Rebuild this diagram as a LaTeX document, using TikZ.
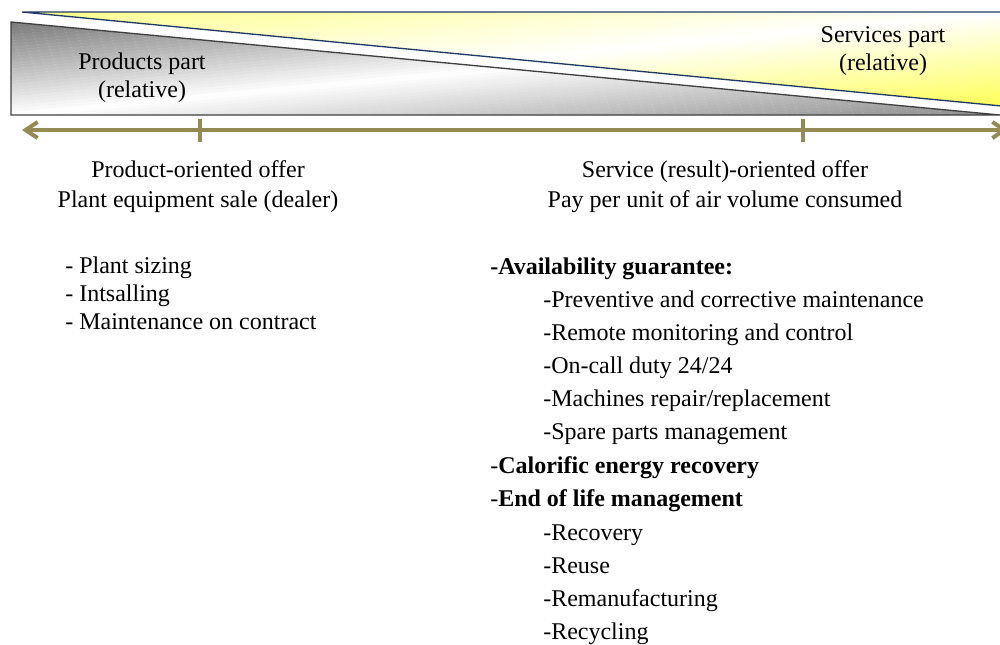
\documentclass[tikz,border=0pt]{standalone}
\usepackage{fontspec}
\setmainfont{Liberation Serif}
\usepackage{xcolor}
\usepackage{tikz}
\usetikzlibrary{arrows.meta}
\definecolor{scalecol}{HTML}{948A54}
\definecolor{prodedge}{HTML}{404040}
\definecolor{prodtop}{HTML}{7A7A7A}
\definecolor{prodbot}{HTML}{8C8C8C}
\definecolor{servedge}{HTML}{1F3B63}
\definecolor{servtop}{HTML}{FFFF8C}
\definecolor{servbot}{HTML}{FFFF55}

% diagonal two-way gradient over a box: origin, width, height (pt), corner colours
\newcommand{\diagfill}[5]{%
  \begin{scope}[shift={#1},x={(#2,0pt)},y={(0pt,-#3)}]
    \foreach \k in {0,...,59} {
      \pgfmathsetmacro\ta{2*\k/60}
      \pgfmathsetmacro\tb{2*(\k+1.1)/60}
      \pgfmathsetmacro\mix{abs(100-200*(\k+0.5)/60)}
      \ifnum\k<30 \def\endcol{#4}\else\def\endcol{#5}\fi
      \fill[\endcol!\mix!white] (\ta+0.1,-0.1) -- (\tb+0.1,-0.1)
           -- (\tb-1.1,1.1) -- (\ta-1.1,1.1) -- cycle;
    }
  \end{scope}}

\begin{document}
\begin{tikzpicture}[
   x=0.75pt, y=-0.75pt,
   font=\fontsize{18}{21}\selectfont,
   lbl/.style={inner sep=0pt,anchor=base},
   item/.style={inner sep=0pt,anchor=base west},
   tick/.style={scalecol,line width=3pt},
   barb/.tip={Straight Barb[length=9pt,width=12pt]},
]
\useasboundingbox (0,0) rectangle (1000,644);

% relative parts (two wedges)
\begin{scope}
  \clip (11,22) -- (11,115) -- (1000,115) -- cycle;
  \diagfill{(11,22)}{741.75pt}{69.75pt}{prodtop}{prodbot}
\end{scope}
\draw[prodedge,line width=1pt] (11,22) -- (11,115) -- (1000,115) -- cycle;
\begin{scope}
  \clip (22,12) -- (1012,12) -- (1012,107) -- cycle;
  \diagfill{(22,12)}{742.5pt}{71.25pt}{servtop}{servbot}
\end{scope}
\draw[servedge,line width=1pt] (22,12) -- (1012,12) -- (1012,107) -- cycle;
\node[lbl] (prodpart) at (142,69) {Products part};
\node[lbl] (prodrel)  at (142,97) {(relative)};
\node[lbl] (servpart) at (883,42) {Services part};
\node[lbl] (servrel)  at (883,70) {(relative)};

% offer scale
\coordinate (scaleL) at (22,130);
\coordinate (scaleR) at (1008,130);
\draw[scalecol,line width=3pt,barb-barb] (scaleL) -- (scaleR);
\draw[tick] (200,119) -- (200,142);
\draw[tick] (803,119) -- (803,142);

% product-oriented offer
\node[lbl] (prodoffer) at (198,177) {Product-oriented offer};
\node[lbl] (prodsale)  at (198,207) {Plant equipment sale (dealer)};
\node[item] (sizing)   at (65,273) {- Plant sizing};
\node[item] (install)  at (65,301) {- Intsalling};
\node[item] (maint)    at (65,329) {- Maintenance on contract};

% service-oriented offer
\node[lbl] (servoffer) at (725,177) {Service (result)-oriented offer};
\node[lbl] (servpay)   at (725,207) {Pay per unit of air volume consumed};
\node[item] (avail)    at (490,274) {\bfseries -Availability guarantee:};
\node[item] (prevent)  at (543,307) {-Preventive and corrective maintenance};
\node[item] (remote)   at (543,340) {-Remote monitoring and control};
\node[item] (oncall)   at (543,373) {-On-call duty 24/24};
\node[item] (repair)   at (543,406) {-Machines repair/replacement};
\node[item] (spare)    at (543,439) {-Spare parts management};
\node[item] (calor)    at (490,473) {-\textbf{Calorific energy recovery}};
\node[item] (endlife)  at (490,506) {-\textbf{End of life management}};
\node[item] (recov)    at (543,540) {-Recovery};
\node[item] (reuse)    at (543,573) {-Reuse};
\node[item] (reman)    at (543,606) {-Remanufacturing};
\node[item] (recyc)    at (543,639) {-Recycling};

\end{tikzpicture}
\end{document}
